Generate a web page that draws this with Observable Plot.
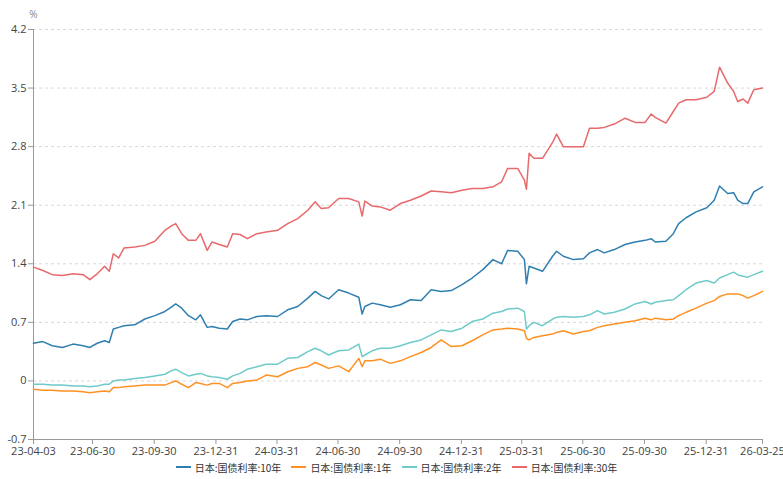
<!DOCTYPE html>
<html><head><meta charset="utf-8">
<script src="https://cdn.jsdelivr.net/npm/d3@7"></script>
<script src="https://cdn.jsdelivr.net/npm/@observablehq/plot@0.6"></script>
<style>
body{margin:0;background:#fff;font-family:"Open Sans","Noto Sans CJK SC",sans-serif;}
#legend{display:flex;justify-content:center;gap:10px;font-size:10px;color:#333;height:18px;align-items:center;padding-left:10px;font-family:"Noto Sans CJK SC",sans-serif;}
.item{display:flex;align-items:center;gap:4px}
.sw{width:15px;height:2px;display:inline-block}
</style></head><body><div id="chart"></div><div id="legend"></div>
<script>
const dates = ["2023-04-03","2023-04-17","2023-05-01","2023-05-16","2023-06-01","2023-06-16","2023-06-26","2023-07-07","2023-07-18","2023-07-25","2023-07-31","2023-08-08","2023-08-16","2023-09-01","2023-09-16","2023-10-01","2023-10-16","2023-10-25","2023-11-01","2023-11-10","2023-11-20","2023-12-01","2023-12-08","2023-12-18","2023-12-25",
"2024-01-05","2024-01-17","2024-01-25","2024-02-05","2024-02-16","2024-03-01","2024-03-15","2024-04-01","2024-04-16","2024-05-01","2024-05-16","2024-05-27","2024-06-05","2024-06-16","2024-07-01","2024-07-16","2024-07-31","2024-08-05","2024-08-09","2024-08-20","2024-09-01","2024-09-16","2024-10-01","2024-10-16","2024-11-01","2024-11-16","2024-12-01","2024-12-16",
"2025-01-01","2025-01-16","2025-02-01","2025-02-16","2025-03-01","2025-03-10","2025-03-25","2025-04-04","2025-04-07","2025-04-11","2025-04-18","2025-05-01","2025-05-16","2025-05-22","2025-06-01","2025-06-16","2025-07-01","2025-07-10","2025-07-22","2025-08-01","2025-08-16","2025-09-01","2025-09-16","2025-10-01","2025-10-10","2025-10-16","2025-11-01","2025-11-12","2025-11-20","2025-12-01","2025-12-16",
"2026-01-01","2026-01-12","2026-01-20","2026-02-01","2026-02-10","2026-02-16","2026-02-24","2026-03-03","2026-03-12","2026-03-25"];

const jgb30 = [1.36,1.32,1.27,1.26,1.28,1.27,1.21,1.28,1.37,1.31,1.52,1.47,1.59,1.60,1.62,1.67,1.80,1.85,1.88,1.76,1.68,1.68,1.76,1.56,1.66,
1.63,1.60,1.76,1.75,1.70,1.76,1.78,1.80,1.88,1.94,2.04,2.14,2.06,2.07,2.18,2.18,2.14,1.97,2.15,2.09,2.08,2.04,2.12,2.16,2.21,2.27,2.26,2.25,
2.28,2.30,2.30,2.32,2.38,2.54,2.54,2.40,2.29,2.72,2.66,2.66,2.85,2.95,2.80,2.80,2.80,3.02,3.02,3.03,3.07,3.14,3.09,3.09,3.19,3.15,3.08,3.22,3.32,3.36,3.36,
3.39,3.46,3.75,3.56,3.46,3.34,3.37,3.32,3.48,3.50];

const jgb10 = [0.45,0.47,0.42,0.40,0.44,0.42,0.40,0.45,0.48,0.46,0.62,0.64,0.66,0.67,0.74,0.78,0.83,0.88,0.92,0.87,0.78,0.73,0.79,0.64,0.65,
0.63,0.62,0.71,0.74,0.73,0.77,0.78,0.77,0.85,0.89,0.99,1.07,1.02,0.98,1.09,1.05,1.00,0.80,0.89,0.93,0.91,0.88,0.91,0.97,0.96,1.09,1.07,1.08,
1.15,1.23,1.33,1.45,1.40,1.56,1.55,1.45,1.16,1.37,1.35,1.31,1.49,1.55,1.49,1.45,1.46,1.53,1.57,1.53,1.57,1.63,1.66,1.68,1.70,1.66,1.67,1.76,1.88,1.95,2.02,
2.07,2.16,2.33,2.24,2.25,2.16,2.12,2.12,2.26,2.32];

const jgb2 = [-0.04,-0.04,-0.05,-0.05,-0.06,-0.06,-0.07,-0.06,-0.04,-0.04,0.00,0.01,0.01,0.03,0.04,0.06,0.08,0.12,0.14,0.10,0.06,0.08,0.09,0.06,0.05,
0.04,0.02,0.06,0.09,0.14,0.17,0.20,0.20,0.27,0.28,0.35,0.39,0.36,0.31,0.36,0.37,0.44,0.29,0.31,0.36,0.39,0.39,0.42,0.46,0.49,0.55,0.61,0.59,
0.63,0.71,0.74,0.81,0.83,0.86,0.87,0.83,0.62,0.66,0.70,0.66,0.74,0.76,0.77,0.76,0.77,0.79,0.84,0.80,0.82,0.86,0.92,0.95,0.92,0.94,0.96,0.97,1.02,1.09,1.17,
1.20,1.17,1.23,1.27,1.30,1.27,1.25,1.24,1.27,1.31];

const jgb1 = [-0.10,-0.11,-0.11,-0.12,-0.12,-0.13,-0.14,-0.13,-0.12,-0.13,-0.08,-0.08,-0.07,-0.06,-0.05,-0.05,-0.05,-0.02,0.00,-0.04,-0.08,-0.02,-0.03,-0.05,-0.03,
-0.03,-0.08,-0.03,-0.02,0.00,0.01,0.07,0.05,0.11,0.15,0.17,0.22,0.19,0.15,0.18,0.11,0.27,0.17,0.24,0.24,0.26,0.21,0.24,0.29,0.34,0.40,0.49,0.41,
0.42,0.48,0.55,0.61,0.62,0.63,0.62,0.60,0.51,0.49,0.52,0.54,0.56,0.58,0.60,0.56,0.59,0.60,0.64,0.66,0.68,0.70,0.72,0.75,0.73,0.75,0.73,0.74,0.78,0.82,0.87,
0.93,0.96,1.01,1.04,1.04,1.04,1.02,0.99,1.02,1.07];

const seriesNames = ["日本:国债利率:10年","日本:国债利率:1年","日本:国债利率:2年","日本:国债利率:30年"];
const seriesColors = ["#2f7fb0","#ff9124","#6fcaca","#e8696c"];
const xTickLabels = ["2023-04-03","2023-06-30","2023-09-30","2023-12-31","2024-03-31","2024-06-30","2024-09-30","2024-12-31","2025-03-31","2025-06-30","2025-09-30","2025-12-31","2026-03-25"];
const yTicks = [-0.7,0,0.7,1.4,2.1,2.8,3.5,4.2];

const parse = d3.utcParse("%Y-%m-%d");
const seriesValues = [jgb10, jgb1, jgb2, jgb30];
const data = seriesNames.flatMap((name, i) => dates.map((d, j) => ({date: parse(d), value: seriesValues[i][j], series: name})));
const xTicks = xTickLabels.map(parse);
const x0 = parse(dates[0]), x1 = parse(dates[dates.length - 1]);

const chart = Plot.plot({
  width: 783, height: 458,
  marginLeft: 33, marginRight: 21, marginTop: 29, marginBottom: 19,
  style: {fontFamily: "'Open Sans', sans-serif", fontSize: "11px", color: "#444", background: "#fff", overflow: "visible"},
  x: {type: "utc", domain: [x0, x1]},
  y: {domain: [yTicks[0], yTicks[yTicks.length - 1]]},
  color: {domain: seriesNames, range: seriesColors},
  marks: [
    Plot.gridY(yTicks.slice(1), {stroke: "#d8d8d8", strokeOpacity: 1, strokeDasharray: "3,3"}),
    Plot.axisY(yTicks, {tickSize: 5, tickPadding: 2, stroke: "#999", tickFormat: d => String(d), label: null}),
    Plot.axisX(xTicks, {tickSize: 5, tickPadding: 3, stroke: "#999", tickFormat: d3.utcFormat("%y-%m-%d"), label: null}),
    Plot.ruleX([x0], {stroke: "#999"}),
    Plot.ruleY([yTicks[0]], {stroke: "#999"}),
    Plot.lineY(data, {x: "date", y: "value", stroke: "series", strokeWidth: 1.5}),
    Plot.text(["%"], {frameAnchor: "top-left", textAnchor: "middle", lineAnchor: "middle", dy: -15, fill: "#888", fontSize: 10})
  ]
});
document.getElementById("chart").appendChild(chart);

const legend = document.getElementById("legend");
seriesNames.forEach((n, i) => {
  const it = document.createElement("span");
  it.className = "item";
  it.innerHTML = `<span class="sw" style="background:${seriesColors[i]}"></span><span>${n}</span>`;
  legend.appendChild(it);
});
</script></body></html>
